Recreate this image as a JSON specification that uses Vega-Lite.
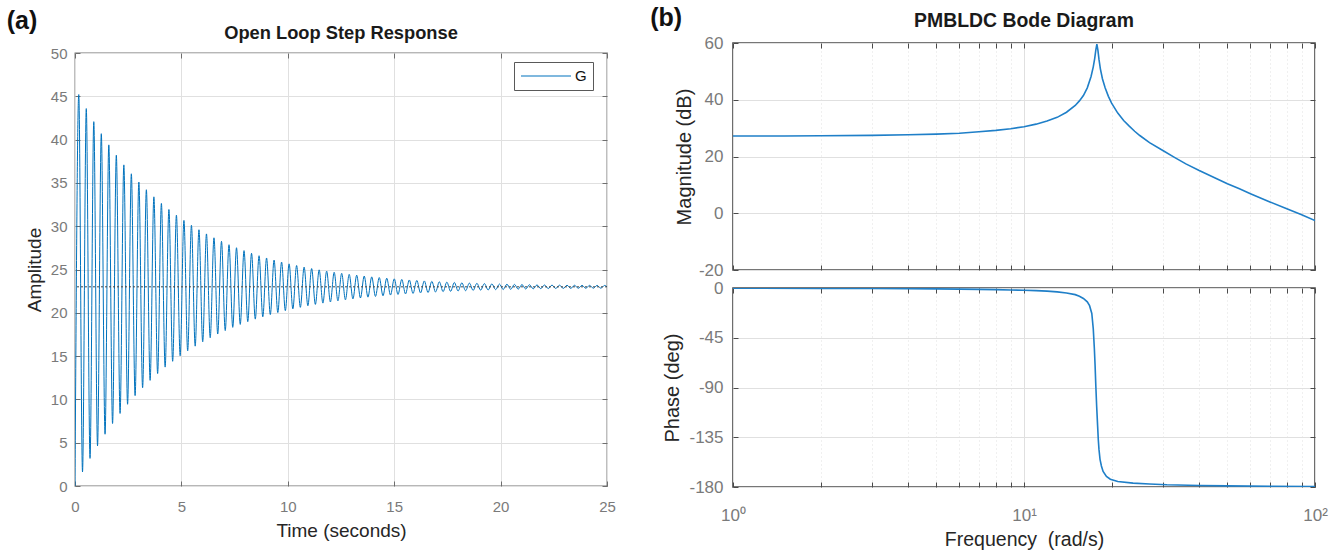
{
  "$schema": "https://vega.github.io/schema/vega-lite/v6.json",
  "background": "white",
  "padding": {"left": 6, "top": 5, "right": 2, "bottom": 0},
  "config": {
    "font": "Liberation Sans",
    "view": {"stroke": "#707070", "strokeWidth": 1.3},
    "axis": {
      "domain": false,
      "gridColor": "#e0e0e0",
      "gridWidth": 1,
      "labelColor": "#7a7a7a",
      "titleColor": "#262626",
      "titleFontWeight": "normal",
      "tickColor": "#6e6e6e",
      "tickSize": -5,
      "labelFlush": false,
      "labelOverlap": false,
      "labelFont": "Liberation Sans",
      "titleFont": "Liberation Sans"
    },
    "title": {"fontWeight": "bold", "color": "#1a1a1a", "font": "Liberation Sans"}
  },
  "datasets": {
    "step": [
      {"t": 0, "y": 0}, {"t": 0.177, "y": 45.2}, {"t": 0.353, "y": 1.63}, {"t": 0.53, "y": 43.58}, {"t": 0.706, "y": 3.19},
      {"t": 0.883, "y": 42.07}, {"t": 1.059, "y": 4.64}, {"t": 1.236, "y": 40.68}, {"t": 1.412, "y": 5.98}, {"t": 1.589, "y": 39.39},
      {"t": 1.765, "y": 7.22}, {"t": 1.942, "y": 38.19}, {"t": 2.118, "y": 8.38}, {"t": 2.295, "y": 37.08}, {"t": 2.471, "y": 9.44},
      {"t": 2.648, "y": 36.05}, {"t": 2.824, "y": 10.44}, {"t": 3.001, "y": 35.1}, {"t": 3.177, "y": 11.35}, {"t": 3.354, "y": 34.21},
      {"t": 3.53, "y": 12.2}, {"t": 3.707, "y": 33.39}, {"t": 3.883, "y": 12.99}, {"t": 4.06, "y": 32.63}, {"t": 4.236, "y": 13.73},
      {"t": 4.413, "y": 31.93}, {"t": 4.589, "y": 14.4}, {"t": 4.766, "y": 31.28}, {"t": 4.942, "y": 15.03}, {"t": 5.119, "y": 30.67},
      {"t": 5.295, "y": 15.61}, {"t": 5.472, "y": 30.11}, {"t": 5.648, "y": 16.15}, {"t": 5.825, "y": 29.59}, {"t": 6.001, "y": 16.65},
      {"t": 6.178, "y": 29.11}, {"t": 6.354, "y": 17.12}, {"t": 6.531, "y": 28.66}, {"t": 6.707, "y": 17.55}, {"t": 6.884, "y": 28.25},
      {"t": 7.06, "y": 17.95}, {"t": 7.237, "y": 27.86}, {"t": 7.413, "y": 18.32}, {"t": 7.59, "y": 27.51}, {"t": 7.766, "y": 18.66},
      {"t": 7.943, "y": 27.18}, {"t": 8.119, "y": 18.98}, {"t": 8.296, "y": 26.87}, {"t": 8.472, "y": 19.27}, {"t": 8.649, "y": 26.59},
      {"t": 8.825, "y": 19.54}, {"t": 9.002, "y": 26.33}, {"t": 9.178, "y": 19.8}, {"t": 9.355, "y": 26.09}, {"t": 9.531, "y": 20.03},
      {"t": 9.708, "y": 25.86}, {"t": 9.884, "y": 20.25}, {"t": 10.061, "y": 25.65}, {"t": 10.237, "y": 20.45}, {"t": 10.414, "y": 25.46},
      {"t": 10.59, "y": 20.63}, {"t": 10.767, "y": 25.28}, {"t": 10.943, "y": 20.81}, {"t": 11.12, "y": 25.11}, {"t": 11.296, "y": 20.97},
      {"t": 11.473, "y": 24.96}, {"t": 11.649, "y": 21.12}, {"t": 11.826, "y": 24.81}, {"t": 12.002, "y": 21.25}, {"t": 12.179, "y": 24.68},
      {"t": 12.355, "y": 21.38}, {"t": 12.532, "y": 24.56}, {"t": 12.708, "y": 21.5}, {"t": 12.885, "y": 24.44}, {"t": 13.061, "y": 21.61},
      {"t": 13.238, "y": 24.34}, {"t": 13.414, "y": 21.71}, {"t": 13.591, "y": 24.24}, {"t": 13.767, "y": 21.81}, {"t": 13.944, "y": 24.15},
      {"t": 14.12, "y": 21.89}, {"t": 14.297, "y": 24.07}, {"t": 14.473, "y": 21.97}, {"t": 14.65, "y": 23.99}, {"t": 14.826, "y": 22.05},
      {"t": 15.003, "y": 23.92}, {"t": 15.179, "y": 22.12}, {"t": 15.356, "y": 23.85}, {"t": 15.532, "y": 22.18}, {"t": 15.709, "y": 23.79},
      {"t": 15.885, "y": 22.24}, {"t": 16.062, "y": 23.73}, {"t": 16.238, "y": 22.3}, {"t": 16.415, "y": 23.68}, {"t": 16.591, "y": 22.35},
      {"t": 16.768, "y": 23.63}, {"t": 16.944, "y": 22.4}, {"t": 17.121, "y": 23.58}, {"t": 17.297, "y": 22.44}, {"t": 17.474, "y": 23.54},
      {"t": 17.65, "y": 22.48}, {"t": 17.827, "y": 23.5}, {"t": 18.003, "y": 22.52}, {"t": 18.18, "y": 23.46}, {"t": 18.356, "y": 22.55},
      {"t": 18.533, "y": 23.43}, {"t": 18.709, "y": 22.59}, {"t": 18.886, "y": 23.4}, {"t": 19.062, "y": 22.62}, {"t": 19.239, "y": 23.37},
      {"t": 19.415, "y": 22.64}, {"t": 19.592, "y": 23.34}, {"t": 19.768, "y": 22.67}, {"t": 19.945, "y": 23.32}, {"t": 20.121, "y": 22.69},
      {"t": 20.298, "y": 23.3}, {"t": 20.474, "y": 22.71}, {"t": 20.651, "y": 23.28}, {"t": 20.827, "y": 22.73}, {"t": 21.004, "y": 23.26},
      {"t": 21.18, "y": 22.75}, {"t": 21.357, "y": 23.24}, {"t": 21.533, "y": 22.77}, {"t": 21.71, "y": 23.22}, {"t": 21.886, "y": 22.79},
      {"t": 22.063, "y": 23.21}, {"t": 22.239, "y": 22.8}, {"t": 22.416, "y": 23.2}, {"t": 22.592, "y": 22.81}, {"t": 22.769, "y": 23.19},
      {"t": 22.945, "y": 22.82}, {"t": 23.122, "y": 23.18}, {"t": 23.298, "y": 22.82}, {"t": 23.475, "y": 23.18}, {"t": 23.651, "y": 22.83},
      {"t": 23.828, "y": 23.17}, {"t": 24.004, "y": 22.83}, {"t": 24.181, "y": 23.17}, {"t": 24.357, "y": 22.84}, {"t": 24.534, "y": 23.16},
      {"t": 24.71, "y": 22.84}, {"t": 24.887, "y": 23.16}, {"t": 25.0, "y": 23.0}
    ],
    "mag": [
      {"w": 1, "db": 27.2}, {"w": 1.5, "db": 27.25}, {"w": 2, "db": 27.3}, {"w": 3, "db": 27.45}, {"w": 4, "db": 27.65},
      {"w": 5, "db": 27.9}, {"w": 6, "db": 28.2}, {"w": 7, "db": 28.7}, {"w": 8, "db": 29.2}, {"w": 9, "db": 29.8},
      {"w": 10, "db": 30.5}, {"w": 11, "db": 31.4}, {"w": 12, "db": 32.5}, {"w": 13, "db": 33.8}, {"w": 14, "db": 35.6},
      {"w": 15, "db": 38.0}, {"w": 15.5, "db": 39.6}, {"w": 16, "db": 41.5}, {"w": 16.5, "db": 44.2}, {"w": 17, "db": 48.2},
      {"w": 17.3, "db": 51.6}, {"w": 17.5, "db": 54.6}, {"w": 17.65, "db": 57.5}, {"w": 17.8, "db": 59.6}, {"w": 17.95, "db": 57.4},
      {"w": 18.1, "db": 54.2}, {"w": 18.3, "db": 50.9}, {"w": 18.6, "db": 47.4}, {"w": 19, "db": 44.2}, {"w": 19.5, "db": 41.2},
      {"w": 20, "db": 38.8}, {"w": 21, "db": 35.3}, {"w": 22, "db": 32.7}, {"w": 23, "db": 30.7}, {"w": 24, "db": 28.9},
      {"w": 25, "db": 27.4}, {"w": 27, "db": 24.9}, {"w": 30, "db": 22.1}, {"w": 33, "db": 19.6}, {"w": 36, "db": 17.4},
      {"w": 40, "db": 15.05}, {"w": 45, "db": 12.6}, {"w": 50, "db": 10.4}, {"w": 55, "db": 8.6}, {"w": 60, "db": 6.9},
      {"w": 70, "db": 4.0}, {"w": 80, "db": 1.6}, {"w": 90, "db": -0.5}, {"w": 100, "db": -2.6}
    ],
    "phase": [
      {"w": 1, "deg": -0.1}, {"w": 2, "deg": -0.3}, {"w": 3, "deg": -0.4}, {"w": 4, "deg": -0.6}, {"w": 5, "deg": -0.8},
      {"w": 6, "deg": -1.0}, {"w": 7, "deg": -1.2}, {"w": 8, "deg": -1.5}, {"w": 9, "deg": -1.8}, {"w": 10, "deg": -2.0},
      {"w": 11, "deg": -2.4}, {"w": 12, "deg": -2.8}, {"w": 13, "deg": -3.5}, {"w": 14, "deg": -4.5}, {"w": 15, "deg": -6.0},
      {"w": 15.5, "deg": -7.5}, {"w": 16, "deg": -9.5}, {"w": 16.5, "deg": -12.5}, {"w": 16.8, "deg": -16}, {"w": 17.1, "deg": -23},
      {"w": 17.3, "deg": -37}, {"w": 17.45, "deg": -55}, {"w": 17.55, "deg": -70}, {"w": 17.65, "deg": -88}, {"w": 17.77, "deg": -107},
      {"w": 17.9, "deg": -124}, {"w": 18.0, "deg": -137}, {"w": 18.1, "deg": -146}, {"w": 18.25, "deg": -155}, {"w": 18.45, "deg": -161},
      {"w": 18.7, "deg": -166}, {"w": 19.2, "deg": -170.5}, {"w": 19.8, "deg": -173}, {"w": 21, "deg": -175}, {"w": 23.7, "deg": -176.5},
      {"w": 27, "deg": -177.3}, {"w": 31, "deg": -178}, {"w": 40, "deg": -178.6}, {"w": 50, "deg": -179}, {"w": 70, "deg": -179.3},
      {"w": 100, "deg": -179.5}
    ]
  },
  "spacing": 34,
  "hconcat": [
    {
      "title": {"text": "(a)", "anchor": "start", "fontSize": 25, "color": "#111111", "offset": -10, "dx": -18},
      "spacing": 1,
      "vconcat": [
        {
          "width": 532,
          "height": 1,
          "title": {"text": "Open Loop Step Response", "fontSize": 18.3, "offset": 0},
          "view": {"stroke": null},
          "data": {"values": []},
          "mark": "point",
          "encoding": {}
        },
        {
          "width": 532,
          "height": 433,
          "layer": [
            {
              "data": {"name": "step"},
              "mark": {"type": "line", "interpolate": "monotone", "strokeWidth": 1, "clip": true},
              "encoding": {
                "x": {"field": "t", "type": "quantitative", "scale": {"domain": [0, 25], "nice": false},
                      "axis": {"values": [0, 5, 10, 15, 20, 25], "title": "Time (seconds)", "labelFontSize": 15, "titleFontSize": 19, "labelPadding": 18, "titlePadding": 7.5}},
                "y": {"field": "y", "type": "quantitative", "scale": {"domain": [0, 50], "nice": false},
                      "axis": {"values": [0, 5, 10, 15, 20, 25, 30, 35, 40, 45, 50], "title": "Amplitude", "labelFontSize": 15, "titleFontSize": 19, "labelPadding": 13, "titlePadding": 6, "labelExpr": "'' + datum.value"}},
                "color": {"datum": "G", "type": "nominal", "scale": {"range": ["#0072BD"]},
                          "legend": {"title": null, "orient": "none", "legendX": 439, "legendY": 19, "strokeColor": "#595959", "fillColor": "white", "padding": 6, "symbolType": "stroke", "symbolSize": 2500, "symbolStrokeWidth": 1.2, "clipHeight": 16, "labelFontSize": 15, "labelColor": "#111111", "labelOffset": 3}}
              }
            },
            {
              "data": {"values": [{"final": 23}]},
              "mark": {"type": "rule", "strokeDash": [2, 2], "color": "#444444", "strokeWidth": 1},
              "encoding": {
                "y": {"field": "final", "type": "quantitative", "scale": {"domain": [0, 50], "nice": false}, "axis": null}
              }
            },
            {
              "data": {"name": "step"},
              "mark": {"type": "point", "opacity": 0},
              "encoding": {
                "x": {"field": "t", "type": "quantitative", "scale": {"domain": [0, 25], "nice": false},
                      "axis": {"orient": "top", "values": [0, 5, 10, 15, 20, 25], "labels": false, "title": null, "grid": false}},
                "y": {"field": "y", "type": "quantitative", "scale": {"domain": [0, 50], "nice": false},
                      "axis": {"orient": "right", "values": [0, 5, 10, 15, 20, 25, 30, 35, 40, 45, 50], "labels": false, "title": null, "grid": false}}
              }
            }
          ],
          "resolve": {"axis": {"x": "independent", "y": "independent"}}
        }
      ]
    },
    {
      "title": {"text": "(b)", "anchor": "start", "fontSize": 25, "color": "#111111", "offset": -21, "dx": -12},
      "spacing": -1,
      "vconcat": [
        {
          "width": 582,
          "height": 227,
          "title": {"text": "PMBLDC Bode Diagram", "fontSize": 19.4, "offset": 3},
          "view": {"stroke": "#4a4a4a", "strokeWidth": 1.6},
          "data": {"name": "mag"},
          "layer": [
            {
              "mark": {"type": "line", "strokeWidth": 1.6, "color": "#1f7fc8", "clip": true},
              "encoding": {
                "x": {"field": "w", "type": "quantitative", "scale": {"type": "log", "domain": [1, 100]},
                      "axis": {"values": [1, 2, 3, 4, 5, 6, 7, 8, 9, 10, 20, 30, 40, 50, 60, 70, 80, 90, 100], "labels": false, "title": null,
                               "gridDash": {"condition": {"test": "datum.value == 1 || datum.value == 10 || datum.value == 100", "value": []}, "value": [1, 3]},
                               "tickColor": "#4a4a4a"}},
                "y": {"field": "db", "type": "quantitative", "scale": {"domain": [-20, 60], "nice": false},
                      "axis": {"values": [-20, 0, 20, 40, 60], "title": "Magnitude (dB)", "labelFontSize": 17, "titleFontSize": 20, "labelPadding": 15, "titlePadding": 4, "labelExpr": "'' + datum.value", "tickColor": "#4a4a4a"}}
              }
            },
            {
              "mark": {"type": "point", "opacity": 0},
              "encoding": {
                "x": {"field": "w", "type": "quantitative", "scale": {"type": "log", "domain": [1, 100]},
                      "axis": {"orient": "top", "values": [1, 2, 3, 4, 5, 6, 7, 8, 9, 10, 20, 30, 40, 50, 60, 70, 80, 90, 100], "labels": false, "title": null, "grid": false, "tickColor": "#4a4a4a"}},
                "y": {"field": "db", "type": "quantitative", "scale": {"domain": [-20, 60], "nice": false},
                      "axis": {"orient": "right", "values": [-20, 0, 20, 40, 60], "labels": false, "title": null, "grid": false, "tickColor": "#4a4a4a"}}
              }
            }
          ],
          "resolve": {"axis": {"x": "independent", "y": "independent"}}
        },
        {
          "width": 582,
          "height": 199,
          "view": {"stroke": "#4a4a4a", "strokeWidth": 1.6},
          "data": {"name": "phase"},
          "layer": [
            {
              "mark": {"type": "line", "strokeWidth": 1.6, "color": "#1f7fc8", "clip": true},
              "encoding": {
                "x": {"field": "w", "type": "quantitative", "scale": {"type": "log", "domain": [1, 100]},
                      "axis": {"values": [1, 2, 3, 4, 5, 6, 7, 8, 9, 10, 20, 30, 40, 50, 60, 70, 80, 90, 100], "title": "Frequency\u00a0 (rad/s)",
                               "labelExpr": "datum.value == 1 ? '10⁰' : datum.value == 10 ? '10¹' : datum.value == 100 ? '10²' : ''",
                               "labelFontSize": 17, "titleFontSize": 19.5, "labelPadding": 25, "titlePadding": 7,
                               "gridDash": {"condition": {"test": "datum.value == 1 || datum.value == 10 || datum.value == 100", "value": []}, "value": [1, 3]},
                               "tickColor": "#4a4a4a"}},
                "y": {"field": "deg", "type": "quantitative", "scale": {"domain": [-180, 0], "nice": false},
                      "axis": {"values": [-180, -135, -90, -45, 0], "title": "Phase (deg)", "labelFontSize": 17, "titleFontSize": 20, "labelPadding": 15, "titlePadding": 6, "labelExpr": "'' + datum.value", "tickColor": "#4a4a4a"}}
              }
            },
            {
              "mark": {"type": "point", "opacity": 0},
              "encoding": {
                "x": {"field": "w", "type": "quantitative", "scale": {"type": "log", "domain": [1, 100]},
                      "axis": {"orient": "top", "values": [1, 2, 3, 4, 5, 6, 7, 8, 9, 10, 20, 30, 40, 50, 60, 70, 80, 90, 100], "labels": false, "title": null, "grid": false, "tickColor": "#4a4a4a"}},
                "y": {"field": "deg", "type": "quantitative", "scale": {"domain": [-180, 0], "nice": false},
                      "axis": {"orient": "right", "values": [-180, -135, -90, -45, 0], "labels": false, "title": null, "grid": false, "tickColor": "#4a4a4a"}}
              }
            }
          ],
          "resolve": {"axis": {"x": "independent", "y": "independent"}}
        }
      ]
    }
  ]
}
